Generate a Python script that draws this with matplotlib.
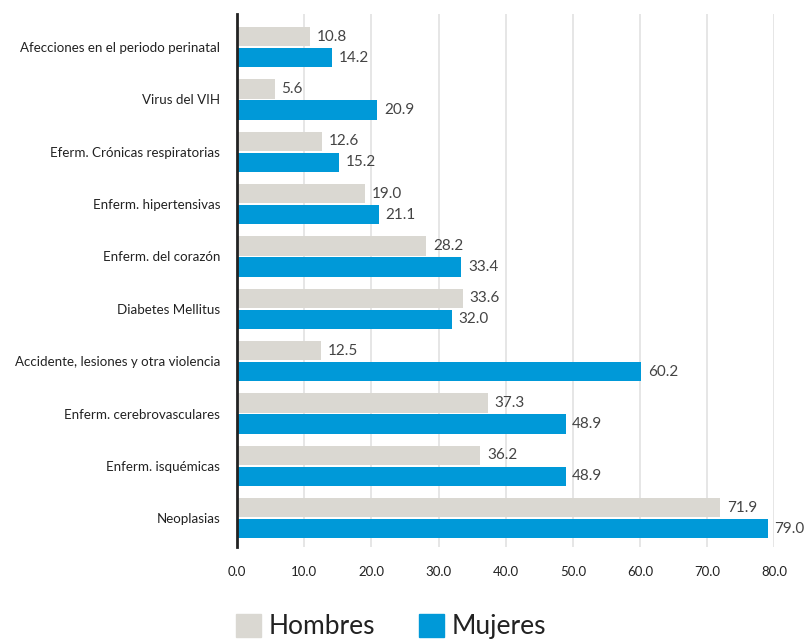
import numpy as np
import matplotlib.pyplot as plt
from matplotlib.patches import Patch

categories = [
    "Afecciones en el periodo perinatal",
    "Virus del VIH",
    "Eferm. Crónicas respiratorias",
    "Enferm. hipertensivas",
    "Enferm. del corazón",
    "Diabetes Mellitus",
    "Accidente, lesiones y otra violencia",
    "Enferm. cerebrovasculares",
    "Enferm. isquémicas",
    "Neoplasias",
]
hombres = [10.8, 5.6, 12.6, 19.0, 28.2, 33.6, 12.5, 37.3, 36.2, 71.9]
mujeres = [14.2, 20.9, 15.2, 21.1, 33.4, 32.0, 60.2, 48.9, 48.9, 79.0]
ticks = [0, 10, 20, 30, 40, 50, 60, 70, 80]

plt.rcParams['font.family'] = ['Lato', 'DejaVu Sans']
gray = '#dad8d2'
blue = '#0099d8'

fig = plt.figure(figsize=(8.07, 6.42), dpi=100)
ax = fig.add_axes([0.2937, 0.148, 0.666, 0.830])

y = np.arange(len(categories))
h = 0.37
ax.barh(y - 0.2, hombres, height=h, color=gray, zorder=3)
ax.barh(y + 0.2, mujeres, height=h, color=blue, zorder=3)

for yi, v in zip(y - 0.2, hombres):
    ax.text(v + 1.0, yi, f"{v:.1f}", va='center', ha='left', fontsize=11,
            color='#444444', clip_on=False)
for yi, v in zip(y + 0.2, mujeres):
    ax.text(v + 1.0, yi, f"{v:.1f}", va='center', ha='left', fontsize=11,
            color='#444444', clip_on=False)

ax.set_xlim(0, 80)
ax.set_ylim(9.55, -0.63)
ax.set_yticks(y)
ax.set_yticklabels(categories, fontsize=9.6, color='#222222')
ax.set_xticks(ticks)
ax.set_xticklabels([f"{t:.1f}" for t in ticks], fontsize=9.5, color='#222222')
ax.tick_params(length=0, axis='both')
ax.tick_params(axis='y', pad=12)
ax.tick_params(axis='x', pad=14)

ax.grid(axis='x', color='#e2e2e2', linewidth=1.2, zorder=0)
for s in ['top', 'right', 'bottom']:
    ax.spines[s].set_visible(False)
ax.spines['left'].set_color('#222222')
ax.spines['left'].set_linewidth(2)
ax.spines['left'].set_zorder(4)

handles = [Patch(color=gray, label='Hombres'), Patch(color=blue, label='Mujeres')]
leg = fig.legend(handles=handles, loc='lower left', bbox_to_anchor=(0.289, 0.0),
                 ncol=2, frameon=False, borderpad=0, borderaxespad=0.1,
                 prop={'size': 19},
                 handlelength=0.95, handleheight=0.95,
                 handletextpad=0.3, columnspacing=1.65)
for t in leg.get_texts():
    t.set_color('#222222')

fig.savefig('out.png', dpi=100)
